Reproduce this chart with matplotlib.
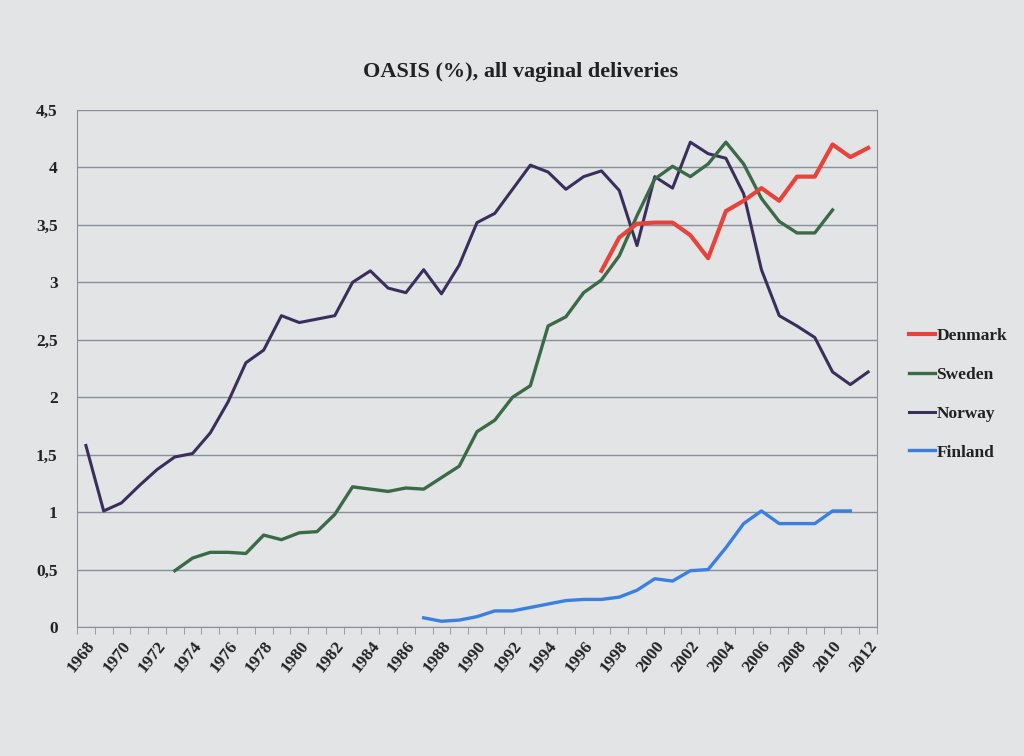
import matplotlib
matplotlib.use('Agg')
from matplotlib import pyplot as plt
from matplotlib.ticker import FuncFormatter, MultipleLocator

# values (OASIS %, all vaginal deliveries)
years_no = list(range(1968, 2013))
norway = [1.58, 1.01, 1.08, 1.23, 1.37, 1.48, 1.51, 1.69, 1.96, 2.30, 2.41, 2.71,
          2.65, 2.68, 2.71, 3.00, 3.10, 2.95, 2.91, 3.11, 2.90, 3.15, 3.52, 3.60,
          3.81, 4.02, 3.96, 3.81, 3.92, 3.97, 3.80, 3.32, 3.92, 3.82, 4.22, 4.12,
          4.08, 3.77, 3.11, 2.71, 2.62, 2.52, 2.22, 2.11, 2.22]

years_se = list(range(1973, 2011))
sweden = [0.49, 0.60, 0.65, 0.65, 0.64, 0.80, 0.76, 0.82, 0.83, 0.98, 1.22, 1.20,
          1.18, 1.21, 1.20, 1.30, 1.40, 1.70, 1.80, 2.00, 2.10, 2.62, 2.70, 2.91,
          3.02, 3.23, 3.58, 3.90, 4.01, 3.92, 4.03, 4.22, 4.03, 3.73, 3.53, 3.43,
          3.43, 3.63]

years_dk = list(range(1997, 2013))
denmark = [3.10, 3.39, 3.51, 3.52, 3.52, 3.41, 3.21, 3.62, 3.71, 3.82, 3.71, 3.92,
           3.92, 4.20, 4.09, 4.17]

years_fi = list(range(1987, 2012))
finland = [0.08, 0.05, 0.06, 0.09, 0.14, 0.14, 0.17, 0.20, 0.23, 0.24, 0.24, 0.26,
           0.32, 0.42, 0.40, 0.49, 0.50, 0.69, 0.90, 1.01, 0.90, 0.90, 0.90, 1.01,
           1.01]

bg = '#e2e4e5'
serif = ['Liberation Serif', 'DejaVu Serif']

fig = plt.figure(figsize=(10.24, 7.56), dpi=100, facecolor=bg)
ax = fig.add_axes([77/1024, 1-627/756, 800/1024, 517/756], facecolor=bg)

ax.plot(years_dk, denmark, color='#e8433b', lw=3.0, label='Denmark', zorder=5)
ax.plot(years_se, sweden, color='#3b6a47', lw=2.4, label='Sweden', zorder=4)
ax.plot(years_no, norway, color='#3a2f5c', lw=2.2, label='Norway', zorder=3)
ax.plot(years_fi, finland, color='#3b7fe0', lw=2.4, label='Finland', zorder=4)

ax.set_xlim(1967.5, 2012.5)
ax.set_ylim(0, 4.5)
ax.yaxis.set_major_locator(MultipleLocator(0.5))
ax.yaxis.set_major_formatter(FuncFormatter(lambda v, p: ('%g' % v).replace('.', ',')))
ax.grid(axis='y', color='#8a8f99', lw=1.0)
ax.set_axisbelow(True)

ax.set_xticks(range(1968, 2013, 2))
ax.set_xticks([y + 0.5 for y in range(1967, 2013)], minor=True)
ax.tick_params(axis='x', which='major', length=0, pad=8)
ax.tick_params(axis='x', which='minor', length=5, color='#8a8f99', direction='out')
ax.tick_params(axis='y', length=0, pad=14)
for lab in ax.get_xticklabels():
    lab.set_rotation(52)
    lab.set_ha('right')
    lab.set_va('top')
    lab.set_rotation_mode('anchor')
for lab in ax.get_xticklabels() + ax.get_yticklabels():
    lab.set_family(serif)
    lab.set_fontweight('bold')
    lab.set_fontsize(12.5)
    lab.set_color('#222222')

for s in ax.spines.values():
    s.set_color('#8a8f99')
ax.spines['top'].set_visible(False)

fig.text(0.508, 1-72/756, 'OASIS (%), all vaginal deliveries', ha='center', va='center',
         family=serif, fontweight='bold', fontsize=16, color='#222222')

leg = ax.legend(loc='center left', bbox_to_anchor=(1.02, 0.45), frameon=False,
                handlelength=1.5, handletextpad=0.1, labelspacing=1.3,
                prop={'family': serif, 'weight': 'bold', 'size': 12.5})
for t in leg.get_texts():
    t.set_color('#222222')

plt.savefig('out.png', dpi=100, facecolor=bg)
